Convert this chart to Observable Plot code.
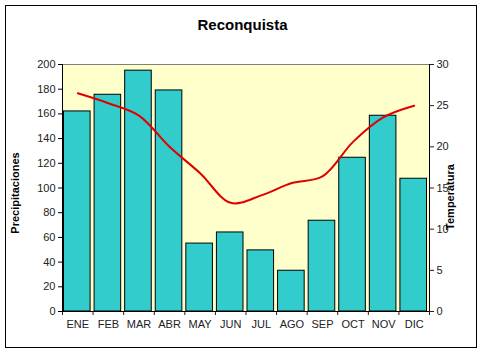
<!DOCTYPE html>
<html>
<head>
<meta charset="utf-8">
<script src="https://cdn.jsdelivr.net/npm/d3@7"></script>
<script src="https://cdn.jsdelivr.net/npm/@observablehq/plot@0.6"></script>
<style>
  html, body { margin: 0; padding: 0; background: #fff; }
  #wrap { position: relative; width: 485px; height: 352px; font-family: "Liberation Sans", Arial, sans-serif; }
  #border { position: absolute; left: 5px; top: 5px; width: 470px; height: 341px; border: 1px solid #000; pointer-events: none; }
  #title { position: absolute; left: 0; width: 485px; top: 16px; text-align: center; font-weight: bold; font-size: 15px; color: #000; }
  .ylab { position: absolute; font-weight: bold; font-size: 11px; color: #000; white-space: nowrap; transform: translate(-50%, -50%) rotate(-90deg); }
  svg { position: absolute; left: 0; top: 0; }
</style>
</head>
<body>
<div id="wrap">
  <div id="title">Reconquista</div>
</div>
<script>
const months = ["ENE","FEB","MAR","ABR","MAY","JUN","JUL","AGO","SEP","OCT","NOV","DIC"];
const precipitaciones = [162, 175.5, 195, 179, 55, 64, 49.5, 33, 73.5, 124.5, 158.5, 107.5];
const temperatura = [26.5, 25.3, 23.8, 20.0, 16.8, 13.2, 14.1, 15.6, 16.4, 20.6, 23.6, 25.0];
const leftTicks = [0,20,40,60,80,100,120,140,160,180,200];
const rightTicks = [0,5,10,15,20,25,30];

const k = 200 / 30;
const rows = months.map((m, i) => ({m, i, p: precipitaciones[i], t: temperatura[i]}));

const chart = Plot.plot({
  width: 485,
  height: 352,
  marginLeft: 62,
  marginRight: 56,
  marginTop: 64,
  marginBottom: 41,
  style: {fontFamily: "Liberation Sans, Arial, sans-serif", fontSize: "11px", color: "#222", background: "transparent"},
  x: {type: "linear", domain: [0, 12]},
  y: {domain: [0, 200]},
  marks: [
    Plot.frame({fill: "#FFFFCC", stroke: "#808080"}),
    Plot.rectY(rows, {x1: "i", x2: d => d.i + 1, y: "p", fill: "#33CCCC", stroke: "#000", strokeWidth: 1, insetLeft: 1.5, insetRight: 2.5}),
    Plot.line(rows, {x: d => d.i + 0.5, y: d => d.t * k, stroke: "#E00000", strokeWidth: 2, curve: "catmull-rom"}),
    Plot.axisY({ticks: leftTicks, tickSize: 4, tickPadding: 3, label: null, stroke: "#000"}),
    Plot.axisY({anchor: "right", ticks: rightTicks.map(t => t * k), tickFormat: d => String(Math.round(d / k)), tickSize: 4, tickPadding: 3, label: null}),
    Plot.axisX({ticks: d3.range(0, 13), tickFormat: () => "", tickSize: 4, label: null}),
    Plot.axisX({ticks: months.map((m, i) => i + 0.5), tickFormat: d => months[Math.floor(d)], tickSize: 0, tickPadding: 9, label: null}),
    Plot.ruleX([0], {stroke: "#000"}),
    Plot.ruleX([12], {stroke: "#000"}),
    Plot.ruleY([0], {stroke: "#000"})
  ]
});
const wrap = document.getElementById("wrap");
wrap.appendChild(chart);

const l1 = document.createElement("div");
l1.className = "ylab"; l1.textContent = "Precipitaciones";
l1.style.left = "15px"; l1.style.top = "193px";
wrap.appendChild(l1);
const l2 = document.createElement("div");
l2.className = "ylab"; l2.textContent = "Temperatura";
l2.style.left = "450px"; l2.style.top = "197px";
wrap.appendChild(l2);
const b = document.createElement("div"); b.id = "border"; wrap.appendChild(b);
</script>
</body>
</html>
